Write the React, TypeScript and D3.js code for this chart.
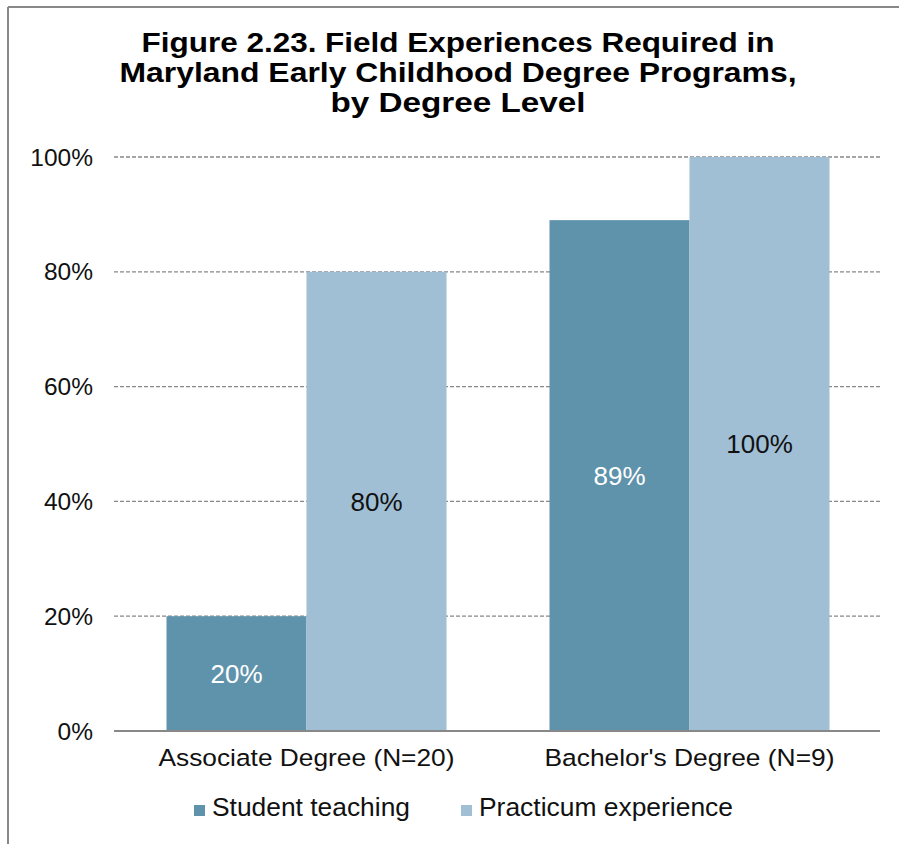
import React from "react";
import * as d3 from "d3";

const categories = ["Associate Degree (N=20)", "Bachelor's Degree (N=9)"];
const seriesNames = ["Student teaching", "Practicum experience"];
const studentTeaching = [20, 89];
const practicum = [80, 100];
const yTicks = [0, 20, 40, 60, 80, 100];
const titleLines = [
  "Figure 2.23. Field Experiences Required in",
  "Maryland Early Childhood Degree Programs,",
  "by Degree Level",
];
const colors = ["#5f93ab", "#a0bfd4"];
const labelColors = ["#ffffff", "#111111"];

export default function App() {
  const W = 899;
  const H = 844;
  const left = 114;
  const right = 880;
  const top = 157;
  const bottom = 731;
  const font = "'Liberation Sans', Arial, Helvetica, sans-serif";

  const x0 = d3.scaleBand<string>().domain(categories).range([left, right]).paddingInner(0).paddingOuter(0);
  const y = d3.scaleLinear().domain([0, 100]).range([bottom, top]);
  const groupWidth = 280;
  const x1 = d3.scaleBand<string>().domain(seriesNames).range([0, groupWidth]).padding(0);
  const series = [studentTeaching, practicum];

  const titleWidths = [633, 677, 255];
  const titleBase = [51.5, 81.5, 111.5];
  const catWidths = [296, 290];
  const legWidths = [198, 254];
  const legX = [194, 461];

  return (
    <svg width={W} height={H} style={{ position: "absolute", left: 0, top: 0, background: "#fff" }}>
      <rect x={0} y={0} width={W} height={H} fill="#fff" />
      <line x1={8} y1={7} x2={W} y2={7} stroke="#888" strokeWidth={2} />
      <line x1={8} y1={7} x2={8} y2={H} stroke="#888" strokeWidth={2} />
      {titleLines.map((t, i) => (
        <text
          key={i}
          x={458}
          y={titleBase[i]}
          textAnchor="middle"
          fontFamily={font}
          fontWeight="bold"
          fontSize={28}
          textLength={titleWidths[i]}
          lengthAdjust="spacingAndGlyphs"
          fill="#000"
        >
          {t}
        </text>
      ))}
      {yTicks.filter((t) => t > 0).map((t) => (
        <line key={t} x1={left} x2={right} y1={y(t)} y2={y(t)} stroke="#888" strokeWidth={1.3} strokeDasharray="4,2" />
      ))}
      {yTicks.map((t) => (
        <text key={"l" + t} x={93} y={y(t)} dy="0.35em" textAnchor="end" fontFamily={font} fontSize={24.5} fill="#111">
          {t + "%"}
        </text>
      ))}
      {categories.map((c, ci) => {
        const gx = (x0(c) as number) + x0.bandwidth() / 2 - groupWidth / 2 + 1;
        return (
          <g key={c}>
            {series.map((s, si) => {
              const bx = gx + (x1(seriesNames[si]) as number);
              const v = s[ci];
              return (
                <g key={si}>
                  <rect x={bx} y={y(v)} width={x1.bandwidth()} height={y(0) - y(v)} fill={colors[si]} />
                  <text
                    x={bx + x1.bandwidth() / 2}
                    y={(y(v) + y(0)) / 2}
                    dy="0.35em"
                    textAnchor="middle"
                    fontFamily={font}
                    fontSize={26}
                    fill={labelColors[si]}
                  >
                    {v + "%"}
                  </text>
                </g>
              );
            })}
            <text
              x={gx + groupWidth / 2}
              y={766}
              textAnchor="middle"
              fontFamily={font}
              fontSize={24.5}
              textLength={catWidths[ci]}
              lengthAdjust="spacingAndGlyphs"
              fill="#111"
            >
              {c}
            </text>
          </g>
        );
      })}
      <line x1={left} x2={right} y1={bottom} y2={bottom} stroke="#888" strokeWidth={2} />
      {seriesNames.map((s, i) => (
        <g key={s}>
          <rect x={legX[i]} y={805} width={11} height={11} fill={colors[i]} />
          <text
            x={legX[i] + 18}
            y={816}
            fontFamily={font}
            fontSize={25}
            textLength={legWidths[i]}
            lengthAdjust="spacingAndGlyphs"
            fill="#111"
          >
            {s}
          </text>
        </g>
      ))}
    </svg>
  );
}
